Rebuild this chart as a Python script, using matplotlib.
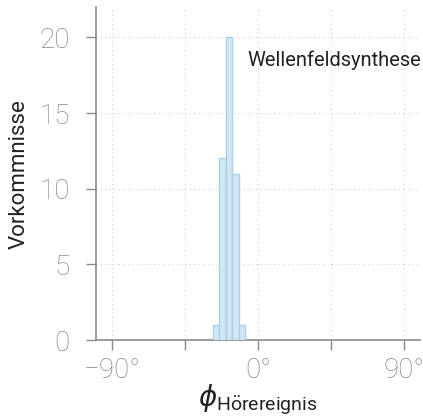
import numpy as np
import matplotlib
matplotlib.use("Agg")
import matplotlib.pyplot as plt

# histogram of perceived direction, 4-degree bins
bin_edges = [-28, -24, -20, -16, -12, -8]
counts = [1, 12, 20, 11, 1]
label = "Wellenfeldsynthese"

plt.rcParams["font.family"] = ["Roboto", "DejaVu Sans"]
plt.rcParams["mathtext.fontset"] = "custom"
plt.rcParams["mathtext.rm"] = "Roboto"
plt.rcParams["mathtext.it"] = "DejaVu Sans:italic"

fig = plt.figure(figsize=(4.23, 4.19), dpi=100)
ax = fig.add_axes([0.227, 0.1885, 0.766, 0.7945])

ax.hist(bin_edges[:-1], bins=bin_edges, weights=counts,
        facecolor="#d2e7f3", edgecolor="#a9d1e7", linewidth=1.0, zorder=3)

ax.set_xlim(-100, 100)
ax.set_ylim(0, 22)
ax.set_xticks([-90, 0, 90])
ax.set_xticklabels(["\u221290\u00b0", "0\u00b0", "90\u00b0"])
ax.set_xticks([-45, 45], minor=True)
ax.set_yticks([0, 5, 10, 15, 20])

ax.grid(True, which="both", axis="x", linestyle=(0, (1, 3)), color="#d0d0d0", linewidth=0.8)
ax.grid(True, which="major", axis="y", linestyle=(0, (1, 3)), color="#d0d0d0", linewidth=0.8)
ax.set_axisbelow(True)

for side in ("top", "right"):
    ax.spines[side].set_visible(False)
for side in ("left", "bottom"):
    ax.spines[side].set_color("#8a8a8a")
    ax.spines[side].set_linewidth(1.2)

ax.tick_params(axis="both", which="both", direction="out", length=7,
               width=1.0, color="#8a8a8a", labelcolor="#888888", labelsize=20)
ax.tick_params(axis="y", pad=12)
ax.tick_params(axis="x", pad=5)
for t in ax.get_xticklabels() + ax.get_yticklabels():
    t.set_fontweight("light")

ax.set_ylabel("Vorkommnisse", fontsize=16, color="#222222", labelpad=7)
ax.set_xlabel(r"$\phi_{\mathrm{H\ddot{o}rereignis}}$", fontsize=20, color="#222222",
              labelpad=-1)

ax.text(0.466, 0.841, label, transform=ax.transAxes, fontsize=14.5,
        color="#222222", ha="left", va="center")

fig.savefig("out.png", dpi=100)
